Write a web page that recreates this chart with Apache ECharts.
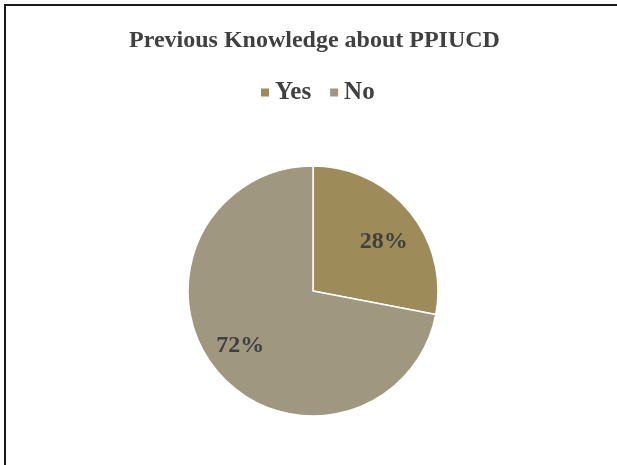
<!DOCTYPE html>
<html>
<head>
<meta charset="UTF-8">
<script src="https://cdn.jsdelivr.net/npm/echarts@6/dist/echarts.min.js"></script>
<style>
  * { margin: 0; padding: 0; box-sizing: border-box; }
  body { background: #fff; }
  #frame { position: absolute; left: 4px; top: 4px; width: 700px; height: 600px;
           border-top: 2px solid #1a1a1a; border-left: 2px solid #1a1a1a; }
  #main { position: absolute; left: 0; top: 0; width: 617px; height: 465px; }
</style>
</head>
<body>
<div id="frame"></div>
<div id="main"></div>
<script>
const categories = ['Yes', 'No'];
const values = [28, 72];
const colors = ['#9D8B5A', '#A09780'];

const serif = '"Liberation Serif", "Times New Roman", serif';
// small nudges so the percentage labels sit where the original puts them
const labelNudge = [[-1, 10], [-1, -4]];

const chart = echarts.init(document.getElementById('main'));
chart.setOption({
  animation: false,
  title: {
    text: 'Previous Knowledge about PPIUCD',
    left: 124, top: 24,
    textStyle: { fontFamily: serif, fontSize: 24, fontWeight: 'bold', color: '#404040' }
  },
  legend: {
    data: categories,
    left: 254, top: 75,
    icon: 'rect', itemWidth: 10, itemHeight: 10, itemGap: 17,
    textStyle: { fontFamily: serif, fontSize: 25, fontWeight: 'bold', color: '#404040' }
  },
  series: [
    {
      type: 'pie',
      center: [313, 291],
      radius: [0, 125],
      startAngle: 90,
      clockwise: true,
      label: { show: false },
      labelLine: { show: false },
      itemStyle: { borderColor: '#fff', borderWidth: 1.5 },
      emphasis: { disabled: true },
      data: categories.map((c, i) => ({ name: c, value: values[i], itemStyle: { color: colors[i] } }))
    },
    {
      // transparent ring only used to place the percentage labels
      type: 'pie',
      center: [313, 291],
      radius: [55, 125],
      startAngle: 90,
      clockwise: true,
      silent: true,
      itemStyle: { color: 'transparent' },
      label: {
        show: true, position: 'inside',
        formatter: p => p.value + '%',
        fontFamily: serif, fontSize: 24, fontWeight: 'bold', color: '#404040'
      },
      labelLine: { show: false },
      data: categories.map((c, i) => ({ name: c, value: values[i], label: { offset: labelNudge[i] } }))
    }
  ]
});
</script>
</body>
</html>
